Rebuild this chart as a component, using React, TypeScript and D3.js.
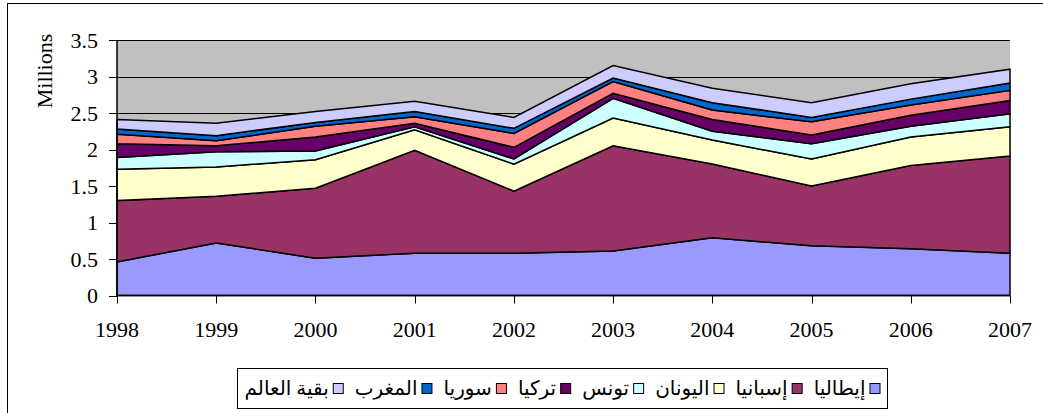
import React, { useEffect, useRef } from 'react';
import * as d3 from 'd3';

// values in millions
const years = [1998, 1999, 2000, 2001, 2002, 2003, 2004, 2005, 2006, 2007];
const italy = [0.46, 0.72, 0.51, 0.58, 0.58, 0.61, 0.79, 0.68, 0.64, 0.58];
const spain = [0.84, 0.64, 0.96, 1.41, 0.85, 1.44, 1.01, 0.82, 1.14, 1.33];
const greece = [0.43, 0.40, 0.39, 0.28, 0.37, 0.38, 0.33, 0.37, 0.39, 0.40];
const tunisia = [0.16, 0.21, 0.12, 0.04, 0.07, 0.27, 0.12, 0.21, 0.15, 0.18];
const turkey = [0.19, 0.08, 0.19, 0.05, 0.16, 0.07, 0.16, 0.12, 0.15, 0.18];
const syria = [0.13, 0.07, 0.15, 0.09, 0.19, 0.16, 0.13, 0.18, 0.14, 0.14];
const morocco = [0.07, 0.07, 0.05, 0.07, 0.07, 0.05, 0.10, 0.06, 0.08, 0.10];
const restOfWorld = [0.13, 0.17, 0.15, 0.14, 0.15, 0.17, 0.20, 0.20, 0.21, 0.19];

const seriesKeys = ['italy', 'spain', 'greece', 'tunisia', 'turkey', 'syria', 'morocco', 'rest'];
const seriesValues = [italy, spain, greece, tunisia, turkey, syria, morocco, restOfWorld];
const seriesNames = ['إيطاليا', 'إسبانيا', 'اليونان', 'تونس', 'تركيا', 'سوريا', 'المغرب', 'بقية العالم'];
const seriesColors = ['#9999FF', '#993366', '#FFFFCC', '#CCFFFF', '#660066', '#FF8080', '#0066CC', '#CCCCFF'];
const yTicks = [0, 0.5, 1, 1.5, 2, 2.5, 3, 3.5];

const WIDTH = 1043;
const HEIGHT = 413;
const FONT = 'Liberation Serif, Times New Roman, serif';

const App: React.FC = () => {
  const svgRef = useRef<SVGSVGElement>(null);

  useEffect(() => {
    if (!svgRef.current) return;
    document.body.style.margin = '0';
    const svg = d3.select(svgRef.current);
    svg.selectAll('*').remove();

    const plot = { left: 117, right: 1010, top: 40, bottom: 295.5 };

    const x = d3.scaleLinear().domain([1998, 2007]).range([plot.left, plot.right]);
    const y = d3.scaleLinear().domain([0, 3.5]).range([plot.bottom, plot.top]);

    // outer chart frame (only left/top edges fall inside the picture)
    svg.append('rect')
      .attr('x', 7.5).attr('y', 3.5)
      .attr('width', WIDTH + 20).attr('height', HEIGHT + 20)
      .attr('fill', '#fff').attr('stroke', '#000').attr('stroke-width', 1);

    // plot background
    svg.append('rect')
      .attr('x', plot.left).attr('y', plot.top)
      .attr('width', plot.right - plot.left).attr('height', plot.bottom - plot.top)
      .attr('fill', '#C0C0C0');

    // gridlines
    svg.append('g')
      .selectAll('line')
      .data(yTicks.filter(d => d > 0))
      .enter()
      .append('line')
      .attr('x1', plot.left).attr('x2', plot.right)
      .attr('y1', d => Math.round(y(d)) + 0.5).attr('y2', d => Math.round(y(d)) + 0.5)
      .attr('stroke', '#000').attr('stroke-width', 1);

    // stacked areas
    const table = years.map((yr, i) => {
      const row: Record<string, number> = { year: yr };
      seriesKeys.forEach((k, j) => { row[k] = seriesValues[j][i]; });
      return row;
    });
    const stacked = d3.stack<Record<string, number>>().keys(seriesKeys)(table);
    const area = d3.area<d3.SeriesPoint<Record<string, number>>>()
      .x(d => x(d.data.year))
      .y0(d => y(d[0]))
      .y1(d => y(d[1]));

    svg.append('g')
      .selectAll('path')
      .data(stacked)
      .enter()
      .append('path')
      .attr('d', d => area(d) as string)
      .attr('fill', (d, i) => seriesColors[i])
      .attr('stroke', '#000')
      .attr('stroke-width', 1.5)
      .attr('stroke-linejoin', 'miter');

    const txt = svg.append('g')
      .attr('font-family', FONT)
      .attr('font-size', 22)
      .attr('fill', '#000');

    // y axis
    svg.append('line')
      .attr('x1', plot.left).attr('x2', plot.left)
      .attr('y1', plot.top).attr('y2', plot.bottom)
      .attr('stroke', '#000').attr('stroke-width', 1.5);
    svg.append('g').selectAll('line')
      .data(yTicks)
      .enter()
      .append('line')
      .attr('x1', plot.left - 8).attr('x2', plot.left)
      .attr('y1', d => Math.round(y(d)) + 0.5).attr('y2', d => Math.round(y(d)) + 0.5)
      .attr('stroke', '#000');
    txt.append('g').selectAll('text')
      .data(yTicks)
      .enter()
      .append('text')
      .attr('x', 98)
      .attr('y', d => y(d) + 7.5)
      .attr('text-anchor', 'end')
      .text(d => String(d));

    // x axis
    svg.append('line')
      .attr('x1', plot.left).attr('x2', plot.right)
      .attr('y1', plot.bottom).attr('y2', plot.bottom)
      .attr('stroke', '#000').attr('stroke-width', 1.5);
    svg.append('g').selectAll('line')
      .data(years)
      .enter()
      .append('line')
      .attr('x1', d => Math.round(x(d)) + 0.5).attr('x2', d => Math.round(x(d)) + 0.5)
      .attr('y1', plot.bottom).attr('y2', plot.bottom + 8)
      .attr('stroke', '#000');
    txt.append('g').selectAll('text')
      .data(years)
      .enter()
      .append('text')
      .attr('x', d => x(d))
      .attr('y', 337)
      .attr('text-anchor', 'middle')
      .text(d => String(d));

    // axis title
    txt.append('text')
      .attr('transform', 'translate(52, 71) rotate(-90)')
      .attr('text-anchor', 'middle')
      .text('Millions');

    // legend (right-to-left: square on the right of each label)
    const box = { left: 237, right: 887, top: 368, bottom: 408 };
    const legend = svg.append('g');
    legend.append('rect')
      .attr('x', box.left + 0.5).attr('y', box.top + 0.5)
      .attr('width', box.right - box.left).attr('height', box.bottom - box.top)
      .attr('fill', '#fff').attr('stroke', '#000').attr('stroke-width', 1);

    const sq = 10;
    const textGap = 4;
    const itemGap = 12;
    const labels = seriesNames.map(name =>
      legend.append('text')
        .attr('y', (box.top + box.bottom) / 2 + 7)
        .attr('font-family', 'Liberation Serif, DejaVu Sans, serif')
        .attr('font-size', 20)
        .text(name)
    );
    const widths = labels.map(t => (t.node() as SVGTextElement).getComputedTextLength());
    const total = d3.sum(widths) + seriesNames.length * (sq + textGap) + (seriesNames.length - 1) * itemGap;
    let cursor = (box.left + box.right) / 2 + total / 2;
    seriesNames.forEach((name, i) => {
      legend.append('rect')
        .attr('x', cursor - sq + 0.5)
        .attr('y', (box.top + box.bottom) / 2 - sq / 2 + 0.5)
        .attr('width', sq).attr('height', sq)
        .attr('fill', seriesColors[i])
        .attr('stroke', '#000').attr('stroke-width', 1);
      cursor -= sq + textGap;
      labels[i].attr('x', cursor - widths[i]);
      cursor -= widths[i] + itemGap;
    });
  }, []);

  return (
    <svg
      ref={svgRef}
      width={WIDTH}
      height={HEIGHT}
      style={{ position: 'absolute', left: 0, top: 0, background: '#fff' }}
    />
  );
};

export default App;
